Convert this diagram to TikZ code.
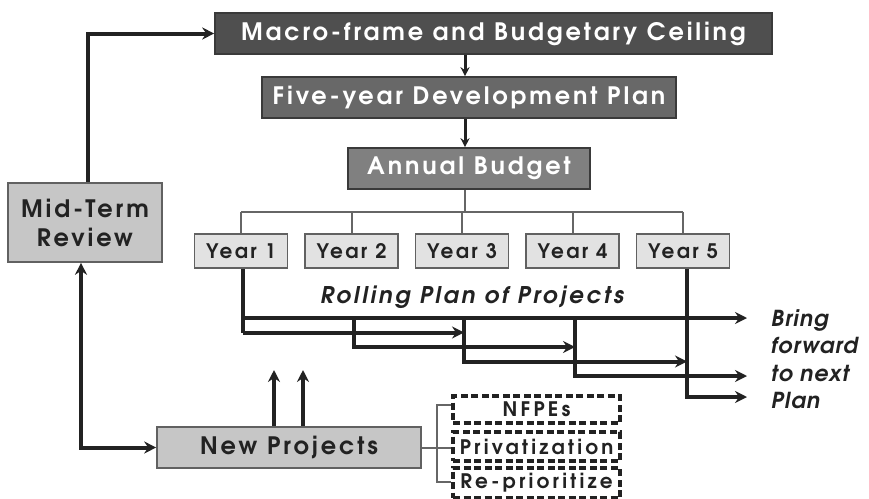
\documentclass[tikz,border=0pt]{standalone}
\usepackage{fontspec}
\setmainfont[LetterSpace=12]{TeX Gyre Adventor}
\usetikzlibrary{arrows.meta}
\definecolor{cMacro}{HTML}{4F4F4F}
\definecolor{cFive}{HTML}{686868}
\definecolor{cAnnual}{HTML}{808080}
\definecolor{cMid}{HTML}{C6C6C6}
\definecolor{cYear}{HTML}{E2E2E2}
\definecolor{cEdge}{HTML}{3A3A3A}
\definecolor{cTxt}{HTML}{222222}
\definecolor{cTree}{HTML}{666666}
\tikzset{
  darkbox/.style={draw=cEdge, line width=1.6pt, text=white, font=\bfseries\fontsize{24}{28}\selectfont, inner sep=0pt},
  lightbox/.style={draw=cEdge!80, line width=1.6pt, text=cTxt, font=\bfseries\fontsize{24}{29}\selectfont, inner sep=0pt},
  yearbox/.style={lightbox, fill=cYear, minimum width=93pt, minimum height=34pt, font=\bfseries\fontsize{20}{24}\selectfont},
  dashbox/.style={draw=cTxt, line width=3.2pt, dash pattern=on 7pt off 3.5pt, text=cTxt, font=\bfseries\fontsize{20}{24}\selectfont\addfontfeature{LetterSpace=16}, minimum width=167pt, inner sep=0pt},
  flow/.style={line width=4pt, draw=cTxt, -{Stealth[length=12pt,width=12pt,inset=4pt]}},
  down/.style={line width=3pt, draw=cTxt, -{Stealth[length=9pt,width=9pt,inset=3pt]}},
  tree/.style={line width=2pt, draw=cTree},
  note/.style={text=cTxt, font=\bfseries\itshape\fontsize{23}{27}\selectfont}
}
\begin{document}
\begin{tikzpicture}[x=1pt,y=-1pt]
\useasboundingbox (0,0) rectangle (869,498);
\fill[white] (0,0) rectangle (869,498);
% top boxes
\node[darkbox, fill=cMacro, minimum width=557pt, minimum height=41pt] (macro) at (493.5,33.5) {Macro-frame and Budgetary Ceiling};
\node[darkbox, fill=cFive, minimum width=414pt, minimum height=41pt] (five) at (469,97.5) {Five-year Development Plan};
\node[darkbox, fill=cAnnual, minimum width=242pt, minimum height=41pt] (annual) at (469,168.5) {Annual Budget};
\coordinate (sp) at (465,0);
\draw[down] (macro.south -| sp) -- (five.north -| sp);
\draw[down] (five.south -| sp) -- (annual.north -| sp);
% years
\node[yearbox] (y1) at (241,251) {Year 1};
\node[yearbox] (y2) at (351.5,251) {Year 2};
\node[yearbox] (y3) at (462,251) {Year 3};
\node[yearbox] (y4) at (572.5,251) {Year 4};
\node[yearbox] (y5) at (683,251) {Year 5};
\coordinate (bar) at (0,212);
\draw[tree] (annual.south -| sp) -- (bar -| sp);
\draw[tree] (y1.north |- bar) -- (y5.north |- bar);
\foreach \y in {y1,y2,y3,y4,y5} \draw[tree] (\y.north |- bar) -- (\y.north);
% mid-term
\node[lightbox, fill=cMid, minimum width=154pt, minimum height=79pt, align=center] (mid) at (85,222.5) {Mid-Term\\Review};
\coordinate (mt) at (88,33.5);
\draw[flow] (mid.north -| mt) -- (mt) -- (macro.west);
% new projects
\node[lightbox, fill=cMid, minimum width=264pt, minimum height=41pt] (newp) at (289,447.5) {New Projects};
\coordinate (mb) at (81,447.5);
\draw[line width=4pt, draw=cTxt, {Stealth[length=12pt,width=12pt,inset=4pt]}-{Stealth[length=12pt,width=12pt,inset=4pt]}] (mid.south -| mb) -- (mb) -- (newp.west);
\coordinate (ua) at (274,370);
\coordinate (ub) at (303,370);
\draw[flow] (newp.north -| ua) -- (ua);
\draw[flow] (newp.north -| ub) -- (ub);
% rolling plan
\node[note] (roll) at (472,297) {Rolling Plan of Projects};
\coordinate (r0) at (0,318);
\coordinate (r1) at (0,332.5);
\coordinate (r2) at (0,347);
\coordinate (r3) at (0,361.5);
\coordinate (r4) at (0,376);
\coordinate (r5) at (0,397);
\coordinate (ex) at (747,0);
\coordinate (x1) at (243,0);
\coordinate (x2) at (354,0);
\coordinate (x3) at (464,0);
\coordinate (x4) at (575,0);
\coordinate (x5) at (687,0);
\draw[line width=4pt, draw=cTxt] (y1.south -| x1) -- (x1 |- r1);
\draw[flow] (x1 |- r0) -- (ex |- r0);
\draw[flow] (x1 |- r1) -- (x3 |- r1);
\draw[flow] (x2 |- r0) -- (x2 |- r2) -- (x4 |- r2);
\draw[flow] (x3 |- r0) -- (x3 |- r3) -- (x5 |- r3);
\draw[flow] (x4 |- r0) -- (x4 |- r4) -- (ex |- r4);
\draw[flow] (y5.south -| x5) -- (x5 |- r5) -- (ex |- r5);
\node[note, anchor=north west, align=left, inner sep=0pt, font=\bfseries\itshape\fontsize{22}{27.5}\selectfont\addfontfeature{LetterSpace=5}] (bring) at (771,309) {Bring\\forward\\to next\\Plan};
% options
\node[dashbox, minimum height=27pt] (nfpe) at (536.5,409.5) {NFPEs};
\node[dashbox, minimum height=29pt] (priv) at (536.5,446.5) {Privatization};
\node[dashbox, minimum height=30pt] (repr) at (536.5,483) {Re-prioritize};
\coordinate (bk) at (437,0);
\coordinate (t1) at (0,405);
\coordinate (t2) at (0,447.5);
\coordinate (t3) at (0,482);
\draw[tree] (newp.east) -- (priv.west |- t2);
\draw[tree] (nfpe.west |- t1) -- (bk |- t1) -- (bk |- t3) -- (repr.west |- t3);
\end{tikzpicture}
\end{document}
